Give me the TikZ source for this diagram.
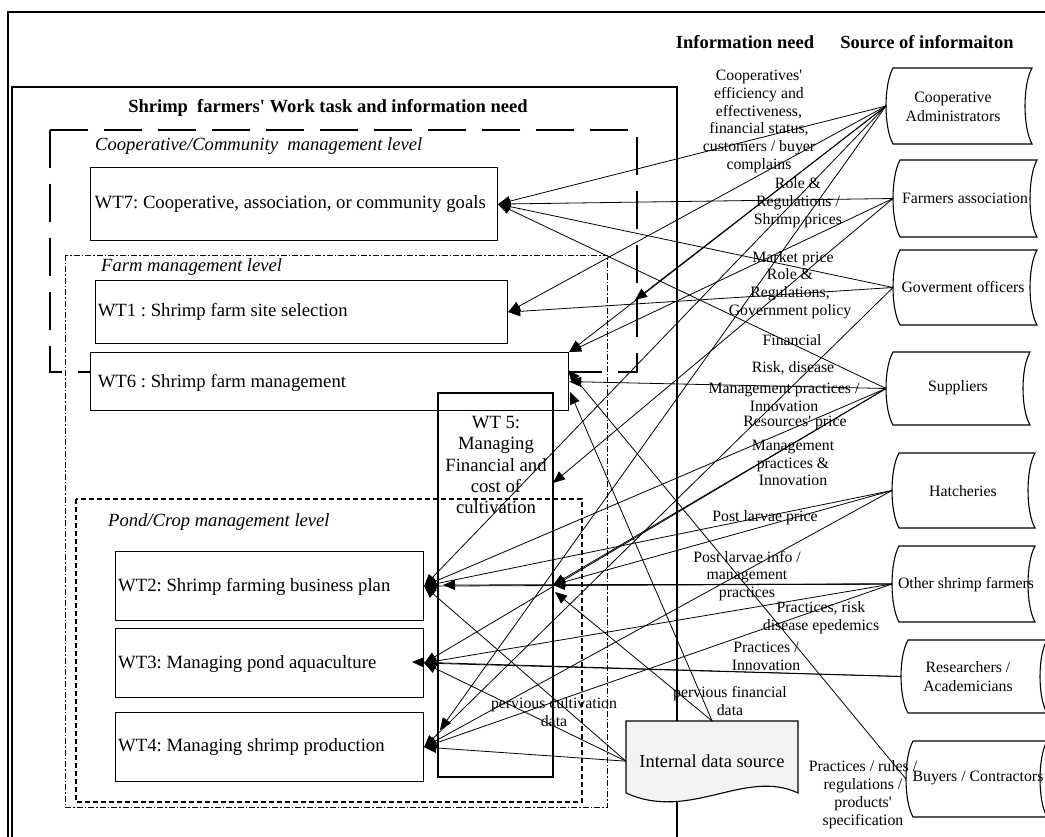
\documentclass[tikz,border=0pt]{standalone}
\usepackage{fontspec}
\setmainfont{Liberation Serif}[Ligatures=TeXOff]
\usetikzlibrary{arrows.meta,calc}

% stored-data shape: both sides curved to the left; apex coordinate on the left side
\newcommand{\srcbox}[5]{%
  \draw[srcline] (#2,#3) -- (#4,#3)
    .. controls ({#4-9.33},{#3+0.22*(#5-#3)}) and ({#4-9.33},{#5-0.22*(#5-#3)}) .. (#4,#5)
    -- (#2,#5)
    .. controls ({#2-9.33},{#5-0.22*(#5-#3)}) and ({#2-9.33},{#3+0.22*(#5-#3)}) .. (#2,#3) -- cycle;
  \coordinate (#1) at ({#2-7},{(#3+#5)/2});
}

\begin{document}
\frenchspacing
\begin{tikzpicture}[x=1pt,y=-1pt,
  frame/.style={line width=1.3pt},
  wtbox/.style={draw, line width=1.2pt, fill=white, anchor=north west, inner sep=0pt},
  wttext/.style={anchor=west, inner sep=0pt, font=\fontsize{18.7}{21.5}\selectfont},
  levelname/.style={anchor=west, inner sep=0pt, font=\fontsize{18.6}{21}\selectfont\itshape},
  coopline/.style={line width=1.3pt, dash pattern=on 38pt off 16pt},
  farmline/.style={line width=0.9pt, dash pattern=on 6pt off 2pt on 1.5pt off 2pt},
  pondline/.style={line width=1.1pt, dash pattern=on 5pt off 3pt},
  conn/.style={line width=0.8pt, -{Triangle[length=12pt,width=10pt]}},
  lab/.style={align=center, inner sep=0pt, font=\fontsize{15.8}{17.8}\selectfont},
  head/.style={inner sep=0pt, font=\fontsize{18.5}{21}\selectfont\bfseries},
  srcline/.style={line width=1.1pt, fill=white},
  srctext/.style={align=center, inner sep=0pt, font=\fontsize{15.8}{19}\selectfont}
]
\useasboundingbox (0,0) rectangle (1045,837);
\fill[white] (0,0) rectangle (1045,837);

% outer frame and work-task panel
\draw[frame] (1045,12) -- (8,12) -- (8,837);
\draw[frame] (12,837) -- (12,87) -- (677,87) -- (677,837);

% headings
\node[head] (hpanel) at (328,108) {Shrimp\ \ farmers' Work task and information need};
\node[head] (hneed) at (745,42) {Information need};
\node[head] (hsrc) at (927,42) {Source of informaiton};

% management levels
\draw[coopline] (50,130) rectangle (637,372);
\draw[farmline] (65,255) rectangle (607,807);
\draw[pondline] (76,499) rectangle (582,802);
\node[levelname] (lcoop) at (95,146) {Cooperative/Community\ \ management level};
\node[levelname] (lfarm) at (101,267) {Farm management level};
\node[levelname] (lpond) at (108,522) {Pond/Crop management level};

% work tasks
\node[wtbox, minimum width=407pt, minimum height=73pt] (wt7) at (90,167) {};
\node[wtbox, minimum width=412pt, minimum height=63pt] (wt1) at (95,280) {};
\node[wtbox, minimum width=478pt, minimum height=58pt] (wt6) at (90,352) {};
\node[wtbox, minimum width=308pt, minimum height=69pt] (wt2) at (115,551) {};
\node[wtbox, minimum width=308pt, minimum height=69pt] (wt3) at (115,628) {};
\node[wtbox, minimum width=308pt, minimum height=69pt] (wt4) at (115,712) {};
\node[wttext] (x7) at ($(wt7.west)+(4.5,0)$) {WT7: Cooperative, association, or community goals};
\node[wttext] (x1) at ($(wt1.west)+(2.6,0)$) {WT1 : Shrimp farm site selection};
\node[wttext] (x6) at ($(wt6.west)+(7.6,1)$) {WT6 : Shrimp farm management};
\node[wttext] (x2) at ($(wt2.west)+(3,1)$) {WT2: Shrimp farming business plan};
\node[wttext] (x3) at ($(wt3.west)+(3,1)$) {WT3: Managing pond aquaculture};
\node[wttext] (x4) at ($(wt4.west)+(3,0)$) {WT4: Managing shrimp production};
\draw[line width=1.2pt] (438,393) rectangle (553,777);
\node[align=center, inner sep=0pt, font=\fontsize{18.7}{21.3}\selectfont] (wt5) at (496,465)
  {WT 5:\\Managing\\Financial and\\cost of\\cultivation};

% sources of information
\srcbox{ca}{893}{68}{1032}{144}
\srcbox{fa}{900}{160}{1037}{237}
\srcbox{go}{900}{250}{1037}{325}
\srcbox{su}{893}{352}{1030}{425}
\srcbox{ha}{899}{453}{1035}{528}
\srcbox{os}{899}{546}{1035}{622}
\srcbox{ra}{908}{640}{1047}{713}
\srcbox{bc}{913}{741}{1047}{817}
\node[srctext] (tca) at (953,107) {Cooperative\\Administrators};
\node[srctext] (tfa) at (965,198) {Farmers association};
\node[srctext] (tgo) at (963,287) {Goverment officers};
\node[srctext] (tsu) at (958,388) {Suppliers};
\node[srctext] (tha) at (963,491) {Hatcheries};
\node[srctext] (tos) at (966,585) {Other shrimp farmers};
\node[srctext] (tra) at (968,677) {Researchers /\\Academicians};
\node[srctext] (tbc) at (978,778) {Buyers / Contractors};

% internal data source (document shape)
\node[minimum width=172pt, minimum height=80pt, anchor=north west, inner sep=0pt] (ids) at (626,721) {};
\draw[line width=1.1pt, fill={rgb,255:red,245;green,242;blue,242}]
  (626,721) -- (798,721) -- (798,793)
  .. controls (745,768) and (690,822) .. (626,793) -- cycle;
\node[inner sep=0pt, font=\fontsize{18.4}{21}\selectfont] (tids) at (712,761) {Internal data source};

% arrow end points on the task boxes
\coordinate (m6) at (635,300);
\coordinate (t6b) at (568,370);
\coordinate (t6d) at (570,392);
\coordinate (t5a) at (553,483);
\coordinate (t5b) at (553,585);
\coordinate (t5c) at (555,592);
\coordinate (t4b) at (440,730);
\coordinate (s2) at (443,585);
\coordinate (s3) at (412,662);

% information flows
\draw[conn] (ca) -- (wt7.east);
\draw[conn] (fa) -- (wt7.east);
\draw[conn] (go) -- (wt7.east);
\draw[conn] (su) -- (wt7.east);
\draw[conn] (ca) -- (wt1.east);
\draw[conn] (go) -- (wt1.east);
\draw[conn] (ca) -- (wt6.north east);
\draw[conn] (fa) -- (wt6.north east);
\draw[conn] (ca) -- (m6);
\draw[conn] (bc) -- (t6b);
\draw[conn] (su) -- (wt6.east);
\draw[conn] (ids.north) -- (t6d);
\draw[conn] (fa) -- (t5a);
\draw[conn] (su) -- (t5b);
\draw[conn] (ha) -- (t5b);
\draw[conn] (os) -- (t5b);
\draw[conn] (ids.north) -- (t5c);
\draw[conn] (ca) -- (wt2.east);
\draw[conn] (su) -- (wt2.east);
\draw[conn] (ha) -- (wt2.east);
\draw[conn] (os) -- (wt2.east);
\draw[conn] (ids.west) -- (wt2.east);
\draw[conn] (os) -- (s2);
\draw[conn] (su) -- (wt3.east);
\draw[conn] (os) -- (wt3.east);
\draw[conn] (ra) -- (wt3.east);
\draw[conn] (ra) -- (s3);
\draw[conn] (ids.west) -- (wt3.east);
\draw[conn] (ca) -- (t4b);
\draw[conn] (go) -- (wt4.east);
\draw[conn] (ha) -- (wt4.east);
\draw[conn] (os) -- (wt4.east);
\draw[conn] (ids.west) -- (wt4.east);

% information needs
\node[lab] (l1) at (759,121.5) {Cooperatives'\\efficiency and\\effectiveness,\\financial status,\\customers / buyer\\complains};
\node[lab] (l2) at (798,203) {Role \&\\Regulations /\\Shrimp prices};
\node[lab] (l3) at (793,259) {Market price};
\node[lab] (l4) at (790,294) {Role \&\\Regulations,\\Government policy};
\node[lab] (l5) at (792,340) {Financial};
\node[lab] (l6) at (793,368) {Risk, disease};
\node[lab] (l7) at (784,397) {Management practices /\\Innovation};
\node[lab] (l8) at (795,423) {Resources' price};
\node[lab] (l9) at (793,463) {Management\\practices \&\\Innovation};
\node[lab] (l10) at (765,518) {Post larvae price};
\node[lab] (l11) at (747,576) {Post larvae info /\\management\\practices};
\node[lab] (l12) at (821,617.5) {Practices, risk\\disease epedemics};
\node[lab] (l13) at (766,656) {Practices /\\Innovation};
\node[lab] (l14) at (730,701) {pervious financial\\data};
\node[lab] (l15) at (554,712) {pervious cultivation\\data};
\node[lab] (l16) at (863,794.5) {Practices / rules /\\regulations /\\products'\\specification};
\end{tikzpicture}
\end{document}
